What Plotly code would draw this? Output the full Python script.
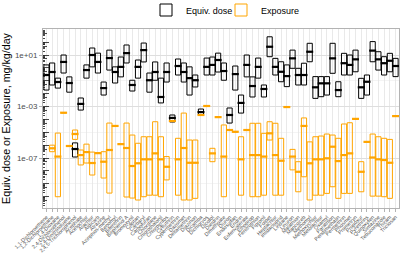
import plotly.graph_objects as go

chemicals = [
    "1,1-Dichloroethene", "1,2-Dichloroethane", "1,4-Dioxane", "2,4-Dichlorophenol",
    "2,4-Dinitrotoluene", "2,4,5-Trichlorophenol", "Acephate", "Acetochlor", "Alachlor", "Aldicarb",
    "Atrazine", "Azinphos-methyl", "Benomyl", "Bifenthrin", "Bisphenol A", "Bromoxynil", "Captan",
    "Carbaryl", "Carbofuran", "Chlordane", "Chlorothalonil", "Chlorpyrifos", "Cyfluthrin",
    "Cypermethrin", "Dazomet", "Deltamethrin", "Diazinon", "Dicamba", "Dichlorvos", "Dicofol",
    "Dieldrin", "Dimethoate", "Diuron", "Endosulfan", "Endrin", "Esfenvalerate", "Ethoprop",
    "Fenitrothion", "Fipronil", "Folpet", "Heptachlor", "Imidacloprid", "Lindane", "Linuron",
    "Malathion", "Mancozeb", "Methomyl", "Methoxychlor", "Metolachlor", "Oxamyl", "Parathion",
    "Pendimethalin", "Permethrin", "Phosmet", "Prometryn", "Propoxur", "Pyrethrins", "Quinoxyfen",
    "Simazine", "Tebuconazole", "Thiram", "Triclosan",
]

dose_hi = [1.7, 2.4, 0.16, 10, 0.20, 1.5e-6, 0.0046, 1.7, 35, 14,
           0.080, 24, 1.2, 7.0, 60, 0.11, 4.1, 85, 0.40, 2.9,
           0.16, 2.4, 2.2e-4, 4.9, 2.4, 1.2, 0.28, 6.4e-4, 5.8, 7.0,
           14, 2.4, 7.7e-4, 1.4, 0.0078, 10, 0.20, 5.8, 0.047, 260,
           5.5, 3.0, 1.7, 24, 0.93, 2.3, 81, 0.21, 0.21, 0.21,
           81, 0.084, 13.5, 10, 24, 0.155, 0.28, 110, 18, 7.4,
           13.5, 5.5]
dose_med = [0.28, 0.48, 0.080, 2.9, 0.067, 5.0e-7, 0.0016, 0.68, 10, 2.9,
            0.027, 5.8, 0.48, 1.2, 14, 0.047, 1.2, 24, 0.11, 0.48,
            0.0055, 0.48, 1.3e-4, 1.4, 0.48, 0.16, 0.11, 3.7e-4, 1.2, 1.7,
            4.1, 0.57, 2.2e-4, 0.33, 0.0019, 1.7, 0.039, 1.2, 0.023, 44,
            1.2, 0.50, 0.23, 5.5, 0.28, 0.28, 18, 0.031, 0.063, 0.063,
            5.5, 0.019, 2.3, 1.7, 4.6, 0.031, 0.084, 22, 4.6, 2.3,
            3.6, 1.4]
dose_lo = [0.019, 0.047, 0.027, 0.40, 0.013, 1.2e-7, 5.3e-4, 0.16, 1.2, 0.40,
           0.0078, 0.68, 0.067, 0.20, 2.4, 0.016, 0.16, 2.9, 0.013, 0.11,
           0.0019, 0.080, 6.3e-5, 0.28, 0.080, 0.0078, 0.033, 2.2e-4, 0.28, 0.28,
           0.48, 0.11, 5.2e-5, 0.019, 3.1e-4, 0.20, 0.0055, 0.16, 0.0055, 7.4,
           0.28, 0.084, 0.035, 0.93, 0.047, 0.047, 3.0, 0.0043, 0.0058, 0.0078,
           0.38, 0.0058, 0.28, 0.28, 0.50, 0.0043, 0.0078, 3.0, 0.68, 0.28,
           0.50, 0.21]

exp_hi = [None, 1.0e-6, 8.7e-6, 3.3e-4, 8.6e-7, 1.5e-5, 4.2e-7, 1.2e-6, 2.9e-7, 2.4e-7,
          3.1e-7, 5.2e-5, 3.1e-5, 1.2e-6, 5.2e-5, 6.1e-6, 1.4e-6, 4.5e-6, 4.5e-6, 6.6e-5,
          4.5e-6, 1.3e-7, 7.5e-5, 3.4e-6, 3.1e-4, 2.5e-6, 2.5e-6, 2.2e-4, 1.1e-3, 5.7e-7,
          1.5e-4, 3.7e-5, 1.5e-5, 1.1e-5, 4.5e-6, 1.5e-5, 5.0e-5, 5.0e-5, 8.3e-6, 6.6e-5,
          5.0e-5, 3.4e-6, 9.1e-4, 4.7e-7, 5.2e-8, 1.3e-4, 1.8e-6, 4.5e-6, 5.1e-6, 7.3e-6,
          6.1e-6, 3.4e-6, 4.4e-5, 5.5e-5, 1.1e-4, 5.2e-8, 1.8e-6, 7.3e-6, 4.5e-6, 3.4e-6,
          2.8e-6, 1.8e-4]
exp_med = [None, 5.7e-7, 1.3e-7, 3.3e-4, 8.6e-7, 7.3e-6, 1.7e-7, 2.9e-7, 4.1e-8, 2.4e-7,
           5.2e-8, 4.2e-7, 3.1e-5, 1.2e-6, 6.0e-7, 2.4e-8, 3.9e-8, 7.9e-8, 7.9e-8, 2.3e-7,
           7.9e-8, 2.1e-8, 7.5e-5, 7.9e-8, 6.0e-7, 4.3e-8, 4.3e-8, 2.2e-4, 1.1e-3, 2.3e-7,
           1.5e-4, 1.3e-7, 1.5e-5, 1.1e-5, 7.9e-8, 1.5e-5, 1.7e-7, 1.7e-7, 1.3e-7, 8.3e-6,
           1.7e-7, 6.2e-8, 9.1e-4, 1.3e-7, 8.6e-9, 3.1e-5, 3.9e-8, 7.9e-8, 7.9e-8, 9.5e-8,
           7.6e-7, 5.8e-8, 1.7e-7, 2.3e-7, 1.1e-4, 8.6e-9, 1.8e-6, 1.1e-7, 7.9e-8, 7.0e-8,
           4.3e-8, 1.8e-4]
exp_lo = [None, 3.1e-7, 9.9e-11, 3.3e-4, 8.6e-7, 2.8e-6, 2.9e-8, 4.1e-8, 4.8e-9, 2.4e-7,
          2.8e-9, 1.9e-10, 3.1e-5, 1.2e-6, 9.4e-11, 7.8e-11, 5.5e-11, 9.9e-11, 1.3e-10, 1.3e-10,
          9.9e-11, 2.0e-9, 7.5e-5, 1.3e-10, 5.5e-11, 5.5e-11, 7.4e-11, 2.2e-4, 1.1e-3, 5.2e-8,
          1.5e-4, 9.9e-11, 1.5e-5, 1.1e-5, 1.3e-10, 1.5e-5, 9.9e-11, 9.9e-11, 1.3e-10, 2.5e-6,
          1.3e-10, 1.3e-10, 9.1e-4, 1.2e-8, 2.4e-10, 3.5e-9, 5.5e-11, 1.3e-10, 1.3e-10, 1.8e-10,
          5.9e-10, 7.4e-11, 1.8e-10, 1.8e-10, 1.1e-4, 2.4e-10, 1.8e-6, 1.1e-10, 1.1e-10, 9.9e-11,
          7.4e-11, 1.8e-4]

y_tickvals = [1e-7, 1e-3, 1e1]
y_ticktext = ["1e-07", "1e-03", "1e+01"]

BLACK = "#000000"
ORANGE = "#FFA500"
FONT = "Liberation Sans, Arial, sans-serif"

# drop missing exposure entries
ex_idx = [i for i, v in enumerate(exp_med) if v is not None]
ex_x = [chemicals[i] for i in ex_idx]
ex_hi = [exp_hi[i] for i in ex_idx]
ex_med = [exp_med[i] for i in ex_idx]
ex_lo = [exp_lo[i] for i in ex_idx]

fig = go.Figure()


def crossbar(name, x, lo, med, hi, color, legend):
    fig.add_trace(go.Box(
        name=name, x=x, q1=lo, median=med, q3=hi, lowerfence=lo, upperfence=hi,
        width=0.9, whiskerwidth=0, boxpoints=False, hoverinfo="skip", legend=legend,
        line=dict(color=color, width=1), fillcolor="rgba(255,255,255,0)",
    ))
    fig.add_trace(go.Scatter(
        x=x, y=med, mode="markers", showlegend=False, hoverinfo="skip",
        marker=dict(symbol="line-ew", size=5, color=color, line=dict(color=color, width=2.2)),
    ))


crossbar("Equiv. dose", chemicals, dose_lo, dose_med, dose_hi, BLACK, "legend")
crossbar("Exposure", ex_x, ex_lo, ex_med, ex_hi, ORANGE, "legend2")

# helper traces so the log-tick overlay axes exist
fig.add_trace(go.Scatter(x=[], y=[], yaxis="y2", showlegend=False, hoverinfo="skip"))
fig.add_trace(go.Scatter(x=[], y=[], yaxis="y3", showlegend=False, hoverinfo="skip"))

decades = [10.0 ** k for k in range(-11, 4)]
fives = [5 * d for d in decades]
smalls = [m * d for d in decades for m in (2, 3, 4, 6, 7, 8, 9)]
yrange = [-10.88, 3.02]

legend_common = dict(
    orientation="h", xanchor="left", y=1 + 19 / 179, yanchor="middle",
    font=dict(size=9, family=FONT, color="#000000"), itemwidth=30,
    bgcolor="rgba(0,0,0,0)",
)

fig.update_layout(
    width=401, height=255,
    margin=dict(l=43, r=2, t=29, b=47, autoexpand=False),
    paper_bgcolor="white", plot_bgcolor="white",
    font=dict(family=FONT, color="#000000"),
    boxmode="overlay",
    showlegend=True,
    legend=dict(x=(146 - 43) / 356, **legend_common),
    legend2=dict(x=(221 - 43) / 356, **legend_common),
    xaxis=dict(
        categoryorder="array", categoryarray=chemicals, range=[-0.6, len(chemicals) - 0.4],
        tickmode="array", tickvals=chemicals, ticktext=chemicals,
        tickangle=-45, tickfont=dict(size=5.3, color="#4D4D4D", family=FONT),
        ticks="outside", ticklen=3, tickcolor="#B3B3B3", tickwidth=1,
        showgrid=True, gridcolor="#E3E3E3", gridwidth=0.8,
        showline=True, linecolor="#B3B3B3", linewidth=1, mirror=True,
        zeroline=False, automargin=False,
    ),
    yaxis=dict(
        type="log", range=yrange,
        tickmode="array", tickvals=y_tickvals, ticktext=y_ticktext,
        tickfont=dict(size=8, color="#4D4D4D", family=FONT),
        ticks="outside", ticklen=3, tickcolor="#B3B3B3",
        showgrid=True, gridcolor="#DEDEDE", gridwidth=1,
        minor=dict(tickmode="array", tickvals=[1e-9, 1e-5, 1e-1], showgrid=True,
                   gridcolor="#EDEDED", gridwidth=0.6, ticks=""),
        showline=True, linecolor="#B3B3B3", linewidth=1, mirror=True,
        zeroline=False, automargin=False,
        title=dict(text="Equiv. dose or Exposure, mg/kg/day",
                   font=dict(size=10.7, color="#000000", family=FONT), standoff=3),
    ),
    yaxis2=dict(
        type="log", range=yrange, overlaying="y", anchor="x", side="left",
        tickmode="array", tickvals=decades, ticks="inside", ticklen=6,
        tickcolor="#1A1A1A", tickwidth=0.8, showticklabels=False,
        showgrid=False, showline=False, zeroline=False,
        minor=dict(tickmode="array", tickvals=fives, ticks="inside", ticklen=4,
                   tickcolor="#1A1A1A", tickwidth=0.8, showgrid=False),
    ),
    yaxis3=dict(
        type="log", range=yrange, overlaying="y", anchor="x", side="left",
        tickmode="array", tickvals=smalls, ticks="inside", ticklen=2,
        tickcolor="#1A1A1A", tickwidth=0.8, showticklabels=False,
        showgrid=False, showline=False, zeroline=False,
    ),
)

fig.write_html(
    "out.html",
    config={"displayModeBar": False, "staticPlot": True},
    post_script="document.body.style.margin='0px';document.body.style.overflow='hidden';",
)
